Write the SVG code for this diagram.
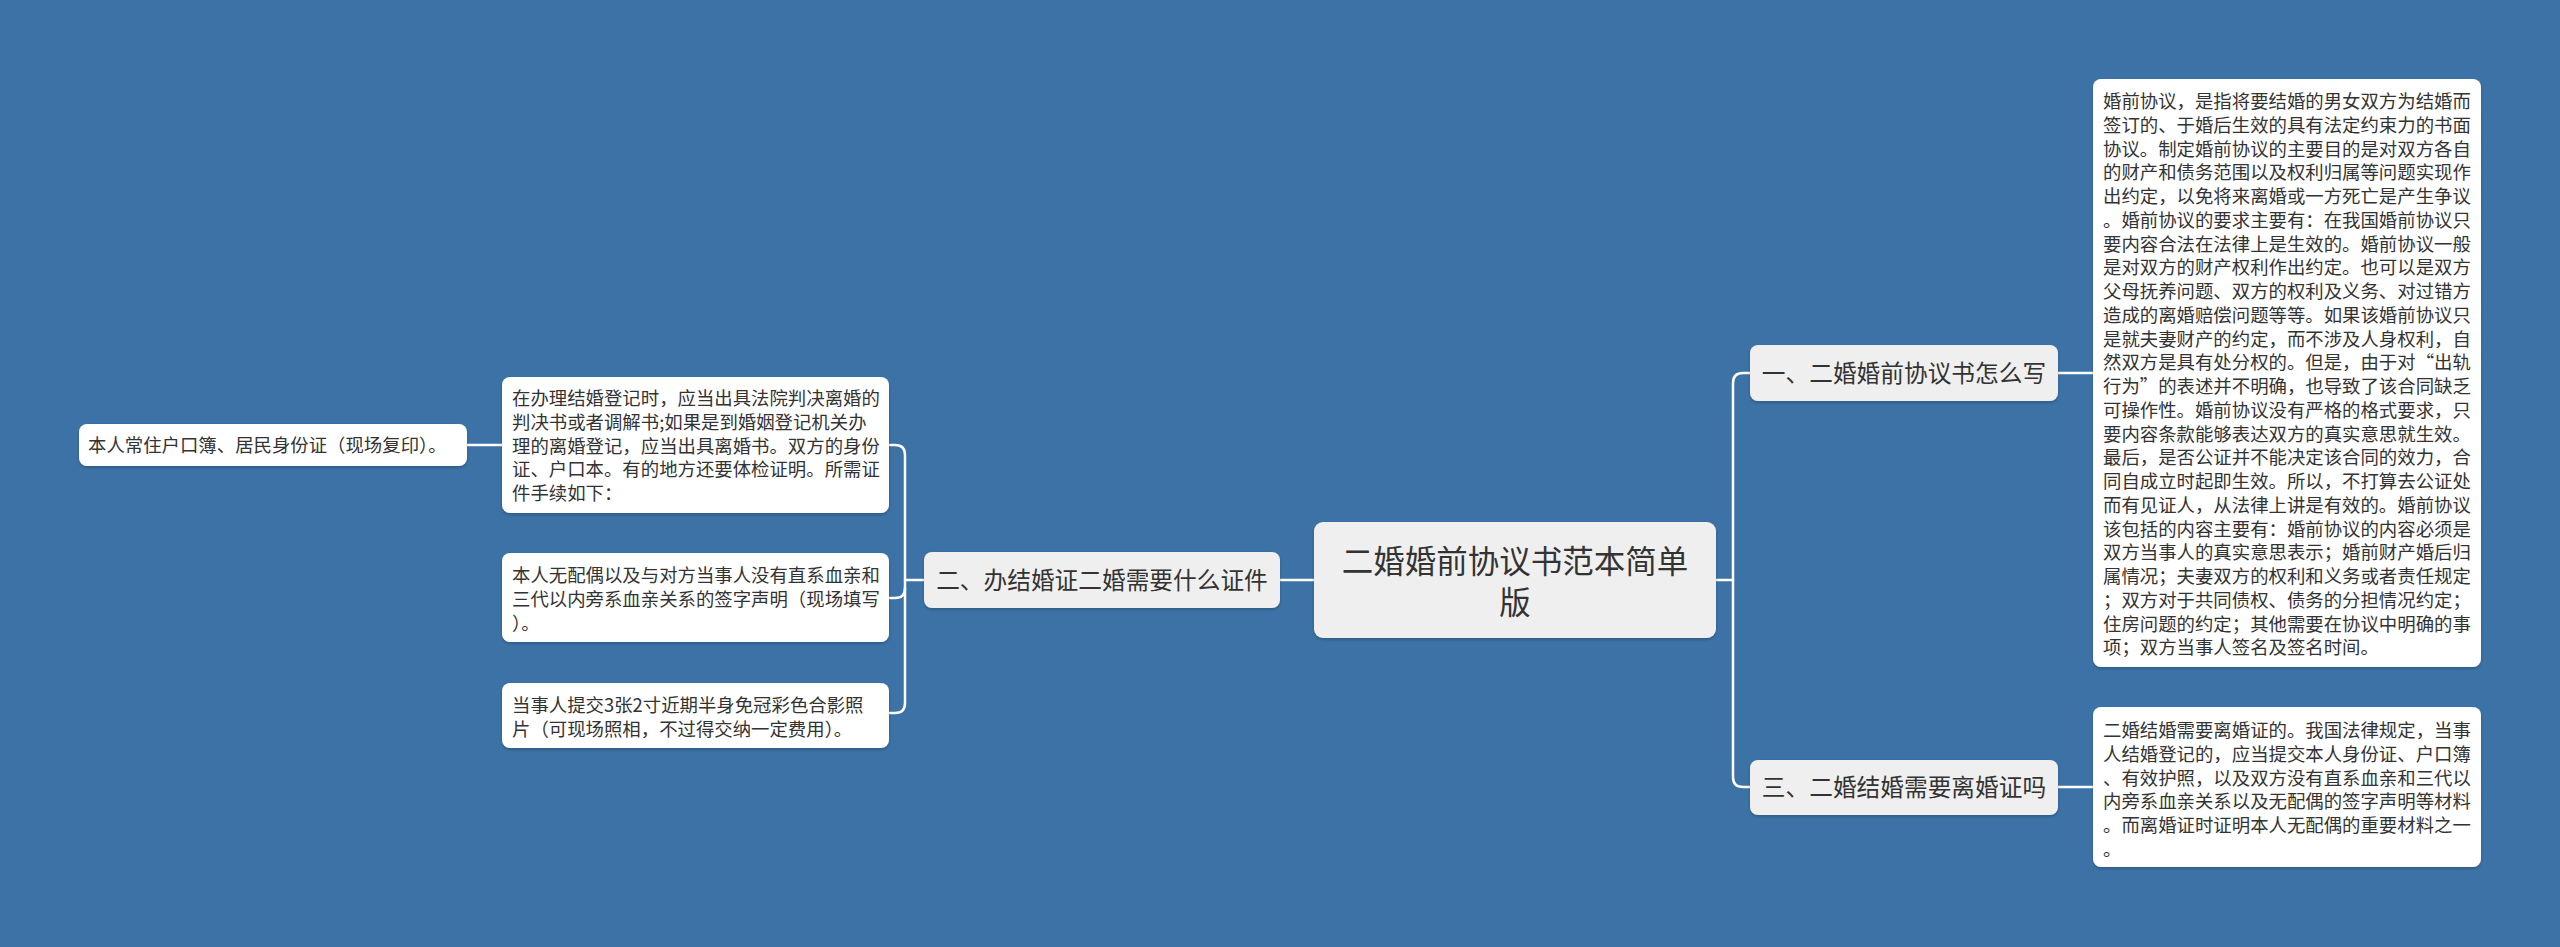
<svg xmlns="http://www.w3.org/2000/svg" width="2560" height="947" viewBox="0 0 2560 947">
<style>
.bg{fill:#3c72a5}
.conn{fill:none;stroke:#ffffff;stroke-width:2.5;stroke-linecap:round}
.root{fill:#efefef}
.branch{fill:#efefef}
.leaf{fill:#ffffff}
text{font-family:"Noto Sans CJK SC","Microsoft YaHei",sans-serif;fill:#333333}
.tr{font-size:31.5px}
.tb{font-size:23.7px}
.tl{font-size:18.4px}
</style>
<defs>
<filter id="sh" x="-5%" y="-5%" width="110%" height="115%">
<feDropShadow dx="0" dy="1.5" stdDeviation="0.8" flood-color="#1d3d5c" flood-opacity="0.5"/>
</filter>
</defs>
<rect class="bg" x="0" y="0" width="2560" height="947"/>
<g id="connectors">
<path class="conn" d="M1716,580 H1733"/>
<path class="conn" d="M1750,373 H1743 Q1733,373 1733,383 V777 Q1733,787 1743,787 H1750"/>
<path class="conn" d="M2058,373 H2093"/>
<path class="conn" d="M2058,787 H2093"/>
<path class="conn" d="M1314,580 H1280"/>
<path class="conn" d="M924,580 H905"/>
<path class="conn" d="M890,445 H895 Q905,445 905,455 V703 Q905,713 895,713 H890"/>
<path class="conn" d="M890,598 H895 Q905,598 905,588"/>
<path class="conn" d="M467,445 H502"/>
</g>
<g id="root">
<rect class="root" filter="url(#sh)" x="1314" y="522" width="402" height="116" rx="9"/>
<text class="tr" x="1515" y="573" text-anchor="middle">二婚婚前协议书范本简单</text>
<text class="tr" x="1515" y="614" text-anchor="middle">版</text>
</g>
<g id="branch1">
<rect class="branch" filter="url(#sh)" x="1750" y="345" width="308" height="56" rx="8"/>
<text class="tb" x="1904" y="382" text-anchor="middle">一、二婚婚前协议书怎么写</text>
</g>
<g id="branch3">
<rect class="branch" filter="url(#sh)" x="1750" y="760" width="308" height="55" rx="8"/>
<text class="tb" x="1904" y="796" text-anchor="middle">三、二婚结婚需要离婚证吗</text>
</g>
<g id="branch2">
<rect class="branch" filter="url(#sh)" x="924" y="552" width="356" height="56" rx="8"/>
<text class="tb" x="1102" y="589" text-anchor="middle">二、办结婚证二婚需要什么证件</text>
</g>
<g id="leaf1">
<rect class="leaf" filter="url(#sh)" x="2093" y="79" width="388" height="588" rx="8"/>
<text class="tl" x="2103">
<tspan x="2103" y="108">婚前协议，是指将要结婚的男女双方为结婚而</tspan>
<tspan x="2103" y="131.75">签订的、于婚后生效的具有法定约束力的书面</tspan>
<tspan x="2103" y="155.5">协议。制定婚前协议的主要目的是对双方各自</tspan>
<tspan x="2103" y="179.25">的财产和债务范围以及权利归属等问题实现作</tspan>
<tspan x="2103" y="203">出约定，以免将来离婚或一方死亡是产生争议</tspan>
<tspan x="2103" y="226.75">。婚前协议的要求主要有：在我国婚前协议只</tspan>
<tspan x="2103" y="250.5">要内容合法在法律上是生效的。婚前协议一般</tspan>
<tspan x="2103" y="274.25">是对双方的财产权利作出约定。也可以是双方</tspan>
<tspan x="2103" y="298">父母抚养问题、双方的权利及义务、对过错方</tspan>
<tspan x="2103" y="321.75">造成的离婚赔偿问题等等。如果该婚前协议只</tspan>
<tspan x="2103" y="345.5">是就夫妻财产的约定，而不涉及人身权利，自</tspan>
<tspan x="2103" y="369.25">然双方是具有处分权的。但是，由于对“出轨</tspan>
<tspan x="2103" y="393">行为”的表述并不明确，也导致了该合同缺乏</tspan>
<tspan x="2103" y="416.75">可操作性。婚前协议没有严格的格式要求，只</tspan>
<tspan x="2103" y="440.5">要内容条款能够表达双方的真实意思就生效。</tspan>
<tspan x="2103" y="464.25">最后，是否公证并不能决定该合同的效力，合</tspan>
<tspan x="2103" y="488">同自成立时起即生效。所以，不打算去公证处</tspan>
<tspan x="2103" y="511.75">而有见证人，从法律上讲是有效的。婚前协议</tspan>
<tspan x="2103" y="535.5">该包括的内容主要有：婚前协议的内容必须是</tspan>
<tspan x="2103" y="559.25">双方当事人的真实意思表示；婚前财产婚后归</tspan>
<tspan x="2103" y="583">属情况；夫妻双方的权利和义务或者责任规定</tspan>
<tspan x="2103" y="606.75">；双方对于共同债权、债务的分担情况约定；</tspan>
<tspan x="2103" y="630.5">住房问题的约定；其他需要在协议中明确的事</tspan>
<tspan x="2103" y="654.25">项；双方当事人签名及签名时间。</tspan>
</text>
</g>
<g id="leaf3">
<rect class="leaf" filter="url(#sh)" x="2093" y="707" width="388" height="160" rx="8"/>
<text class="tl">
<tspan x="2103" y="737">二婚结婚需要离婚证的。我国法律规定，当事</tspan>
<tspan x="2103" y="760.75">人结婚登记的，应当提交本人身份证、户口簿</tspan>
<tspan x="2103" y="784.5">、有效护照，以及双方没有直系血亲和三代以</tspan>
<tspan x="2103" y="808.25">内旁系血亲关系以及无配偶的签字声明等材料</tspan>
<tspan x="2103" y="832">。而离婚证时证明本人无配偶的重要材料之一</tspan>
<tspan x="2103" y="855.75">。</tspan>
</text>
</g>
<g id="leafA">
<rect class="leaf" filter="url(#sh)" x="502" y="377" width="387" height="136" rx="8"/>
<text class="tl">
<tspan x="512" y="405">在办理结婚登记时，应当出具法院判决离婚的</tspan>
<tspan x="512" y="428.75">判决书或者调解书;如果是到婚姻登记机关办</tspan>
<tspan x="512" y="452.5">理的离婚登记，应当出具离婚书。双方的身份</tspan>
<tspan x="512" y="476.25">证、户口本。有的地方还要体检证明。所需证</tspan>
<tspan x="512" y="500">件手续如下：</tspan>
</text>
</g>
<g id="leafB">
<rect class="leaf" filter="url(#sh)" x="502" y="553" width="387" height="89" rx="8"/>
<text class="tl">
<tspan x="512" y="582">本人无配偶以及与对方当事人没有直系血亲和</tspan>
<tspan x="512" y="605.75">三代以内旁系血亲关系的签字声明（现场填写</tspan>
<tspan x="512" y="629.5">）。</tspan>
</text>
</g>
<g id="leafC">
<rect class="leaf" filter="url(#sh)" x="502" y="683" width="387" height="65" rx="8"/>
<text class="tl">
<tspan x="512" y="712">当事人提交3张2寸近期半身免冠彩色合影照</tspan>
<tspan x="512" y="735.75">片（可现场照相，不过得交纳一定费用）。</tspan>
</text>
</g>
<g id="leafD">
<rect class="leaf" filter="url(#sh)" x="79" y="424" width="388" height="42" rx="8"/>
<text class="tl" x="88" y="452">本人常住户口簿、居民身份证（现场复印）。</text>
</g>
</svg>
